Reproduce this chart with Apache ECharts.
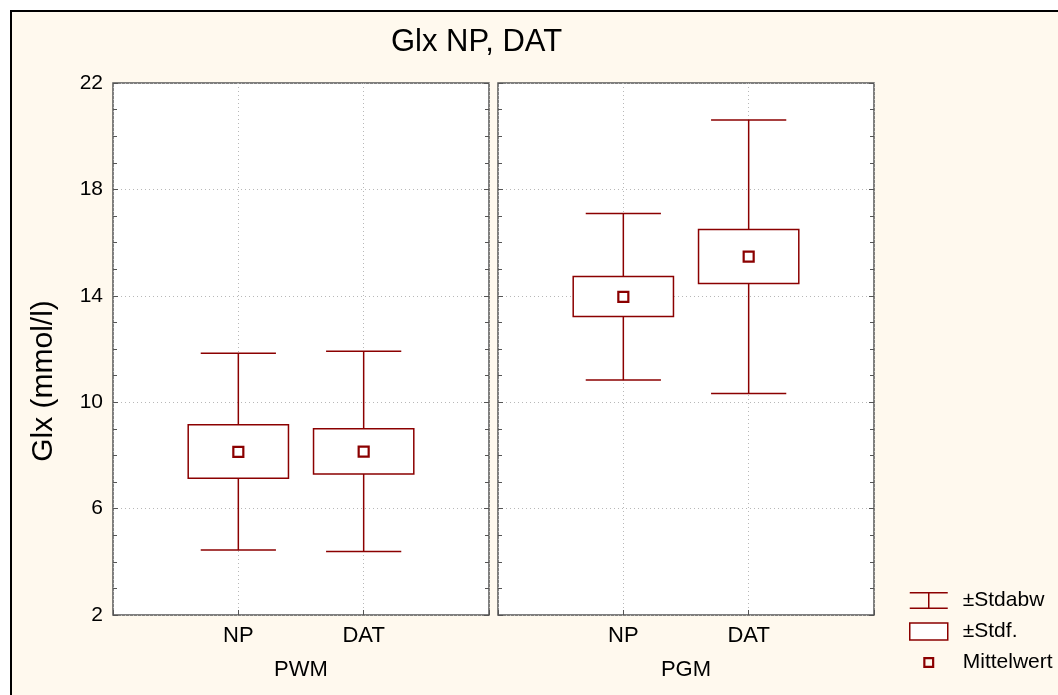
<!DOCTYPE html>
<html>
<head>
<meta charset="utf-8">
<script src="https://cdn.jsdelivr.net/npm/echarts@6/dist/echarts.min.js"></script>
<style>
html,body{margin:0;padding:0;background:#fff;}
#chart{width:1058px;height:695px;}
</style>
</head>
<body>
<div id="chart"></div>
<script>
// ---- data ----
const axisCategories = ['', 'NP', 'DAT', ''];
const groupCats = ['NP', 'DAT'];
const panelNames = ['PWM', 'PGM'];
const yTicks = [2, 6, 10, 14, 18, 22];

const pwmMean = [8.13, 8.14];
const pwmStdfLow = [7.14, 7.30];
const pwmStdfHigh = [9.15, 9.00];
const pwmStdabwLow = [4.44, 4.39];
const pwmStdabwHigh = [11.84, 11.92];

const pgmMean = [13.96, 15.47];
const pgmStdfLow = [13.22, 14.46];
const pgmStdfHigh = [14.73, 16.49];
const pgmStdabwLow = [10.83, 10.33];
const pgmStdabwHigh = [17.09, 20.61];

const legendNames = ['±Stdabw', '±Stdf.', 'Mittelwert'];

// ---- styles ----
const RED = '#8B0000';
const FRAME = '#555';
const GRIDC = '#b8b8b8';
const FONT = 'Liberation Sans, Arial, sans-serif';

function rows(mean, sLo, sHi, dLo, dHi) {
  return groupCats.map((c, i) => [axisCategories.indexOf(c), dLo[i], sLo[i], mean[i], sHi[i], dHi[i]]);
}
const panelRows = [
  rows(pwmMean, pwmStdfLow, pwmStdfHigh, pwmStdabwLow, pwmStdabwHigh),
  rows(pgmMean, pgmStdfLow, pgmStdfHigh, pgmStdabwLow, pgmStdabwHigh)
];

function renderWhisker(params, api) {
  const x = api.value(0);
  const lo = api.coord([x, api.value(1)]);
  const hi = api.coord([x, api.value(5)]);
  const band = api.size([1, 0])[0];
  const cw = band * 0.6;
  const st = { stroke: RED, lineWidth: 1.5, fill: null };
  return {
    type: 'group',
    children: [
      { type: 'line', shape: { x1: lo[0], y1: lo[1], x2: hi[0], y2: hi[1] }, style: st },
      { type: 'line', shape: { x1: lo[0] - cw / 2, y1: lo[1], x2: lo[0] + cw / 2, y2: lo[1] }, style: st },
      { type: 'line', shape: { x1: hi[0] - cw / 2, y1: hi[1], x2: hi[0] + cw / 2, y2: hi[1] }, style: st }
    ]
  };
}
function renderBox(params, api) {
  const x = api.value(0);
  const bLo = api.coord([x, api.value(2)]);
  const bHi = api.coord([x, api.value(4)]);
  const band = api.size([1, 0])[0];
  const bw = band * 0.8;
  return {
    type: 'rect',
    shape: { x: bLo[0] - bw / 2, y: bHi[1], width: bw, height: bLo[1] - bHi[1] },
    style: { fill: '#fff', stroke: RED, lineWidth: 1.5 }
  };
}

const grids = [
  { left: 113, top: 83, width: 376, height: 532, show: true, backgroundColor: '#fff', borderColor: FRAME, borderWidth: 1.5 },
  { left: 498, top: 83, width: 376, height: 532, show: true, backgroundColor: '#fff', borderColor: FRAME, borderWidth: 1.5 }
];

const xAxes = [], yAxes = [], series = [];
panelNames.forEach((pn, g) => {
  xAxes.push({
    type: 'category', gridIndex: g, data: axisCategories, boundaryGap: false,
    name: pn, nameLocation: 'middle', nameGap: 44,
    nameTextStyle: { fontSize: 22, color: '#000', fontFamily: FONT },
    axisLine: { show: false },
    axisTick: { show: true, inside: true, length: 5, lineStyle: { color: FRAME } },
    axisLabel: { fontSize: 22, color: '#000', fontFamily: FONT, margin: 10 },
    splitLine: { show: true, lineStyle: { color: GRIDC, type: [1, 3], width: 1 } }
  });
  const yBase = {
    type: 'value', gridIndex: g, min: yTicks[0], max: yTicks[yTicks.length - 1], interval: yTicks[1] - yTicks[0],
    axisLine: { show: false },
    axisTick: { show: true, inside: true, length: 5, lineStyle: { color: FRAME } },
    minorTick: { show: true, splitNumber: 4, length: 4, lineStyle: { color: FRAME } }
  };
  yAxes.push(Object.assign({}, yBase, {
    position: 'left',
    axisLabel: { show: g === 0, fontSize: 21, color: '#000', fontFamily: FONT, margin: 10 },
    splitLine: { show: true, lineStyle: { color: GRIDC, type: [1, 3], width: 1 } }
  }));
  yAxes.push(Object.assign({}, yBase, {
    position: 'right', axisLabel: { show: false }, splitLine: { show: false }
  }));

  const xi = g, yi = g * 2;
  series.push({
    name: legendNames[0], type: 'custom', xAxisIndex: xi, yAxisIndex: yi,
    renderItem: renderWhisker, data: panelRows[g], z: 2, silent: true,
    itemStyle: { color: RED }
  });
  series.push({
    name: legendNames[1], type: 'custom', xAxisIndex: xi, yAxisIndex: yi,
    renderItem: renderBox, data: panelRows[g], z: 3, silent: true,
    itemStyle: { color: RED }
  });
  series.push({
    name: legendNames[2], type: 'scatter', xAxisIndex: xi, yAxisIndex: yi,
    data: panelRows[g].map(r => [r[0], r[3]]), z: 4, silent: true,
    symbol: 'rect', symbolSize: 10,
    itemStyle: { color: '#fff', borderColor: RED, borderWidth: 2.2, opacity: 1 }
  });
});

const whiskerIcon = 'path://M0,0H38V1.5H0Z M18.25,1.5H19.75V15.5H18.25Z M0,15.5H38V17H0Z';
const meanIcon = 'path://M0,0h0.01v0.01h-0.01Z M37.99,16.99h0.01v0.01h-0.01Z M13.5,3H24.5V14H13.5Z M15.7,5.2V11.8H22.3V5.2Z';

const chart = echarts.init(document.getElementById('chart'));
chart.setOption({
  animation: false,
  backgroundColor: '#fff',
  textStyle: { fontFamily: FONT },
  title: {
    text: 'Glx NP, DAT', left: 391, top: 27, padding: 0,
    textStyle: { fontSize: 31, fontWeight: 'normal', color: '#000', fontFamily: FONT }
  },
  graphic: [
    { type: 'rect', z: -10, silent: true, shape: { x: 11, y: 11, width: 1200, height: 900 },
      style: { fill: '#FFF9EE', stroke: '#000', lineWidth: 2 } },
    { type: 'text', silent: true, x: 44, y: 381, rotation: Math.PI / 2,
      style: { text: 'Glx (mmol/l)', font: '30px ' + FONT, fill: '#000', align: 'center', verticalAlign: 'middle' } }
  ],
  legend: {
    orient: 'vertical', left: 909, top: 590, padding: 0,
    itemWidth: 38, itemHeight: 17, itemGap: 10, selectedMode: false,
    textStyle: { fontSize: 21, color: '#000', fontFamily: FONT, padding: [0, 0, 0, 10] },
    data: [
      { name: legendNames[0], icon: whiskerIcon, itemStyle: { color: RED, borderWidth: 0 } },
      { name: legendNames[1], icon: 'rect', itemStyle: { color: '#fff', borderColor: RED, borderWidth: 1.5 } },
      { name: legendNames[2], icon: meanIcon, itemStyle: { color: RED, borderWidth: 0 } }
    ]
  },
  grid: grids,
  xAxis: xAxes,
  yAxis: yAxes,
  series: series
});
</script>
</body>
</html>
